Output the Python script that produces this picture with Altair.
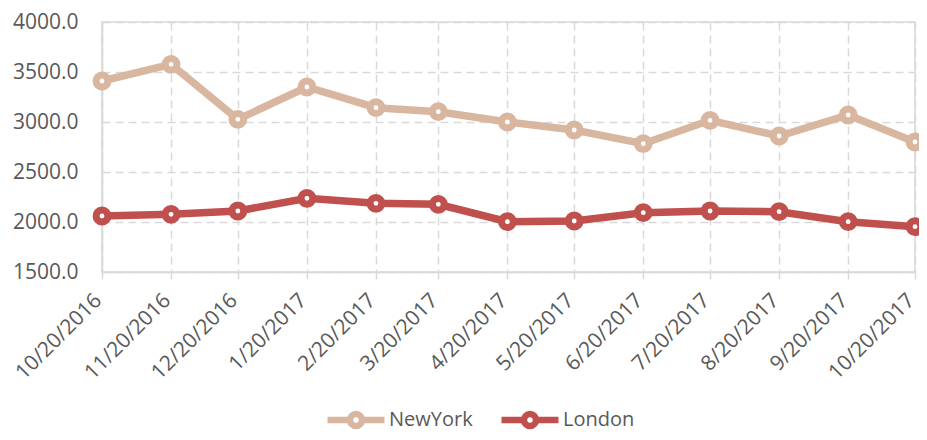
import altair as alt
import pandas as pd

dates = ["2016-10-20", "2016-11-20", "2016-12-20", "2017-01-20", "2017-02-20",
         "2017-03-20", "2017-04-20", "2017-05-20", "2017-06-20", "2017-07-20",
         "2017-08-20", "2017-09-20", "2017-10-20"]
newyork = [3410, 3577, 3027, 3350, 3143, 3103, 3000, 2920, 2783, 3017, 2860, 3070, 2800]
london = [2060, 2077, 2110, 2237, 2187, 2177, 2003, 2010, 2093, 2110, 2103, 2003, 1953]
series = ["NewYork", "London"]
colors = ["#D9B6A0", "#C0504D"]
y_ticks = [1500, 2000, 2500, 3000, 3500, 4000]

rows = []
for d, v in zip(dates, newyork):
    rows.append({"date": d, "city": "NewYork", "value": v})
for d, v in zip(dates, london):
    rows.append({"date": d, "city": "London", "value": v})
df = pd.DataFrame(rows)

def dt(s):
    y, m, d = map(int, s.split("-"))
    return alt.DateTime(year=y, month=m, date=d, utc=True)

font = "Open Sans"
text_color = "#595959"
grid_color = "#d9d9d9"

x = alt.X(
    "date:T",
    timeUnit="utcyearmonthdate",
    scale=alt.Scale(domain=[dt(dates[0]), dt(dates[-1])], nice=False),
    axis=alt.Axis(
        values=[dt(d) for d in dates],
        format="%-m/%d/%Y",
        labelAngle=-45,
        labelAlign="right",
        labelBaseline="middle",
        labelPadding=18,
        labelOffset=-4,
        tickSize=7,
        tickColor=grid_color,
        tickWidth=1.5,
        grid=True,
        gridDash=[8, 5],
        gridColor=grid_color,
        gridWidth=1.5,
        domainColor=grid_color,
        domainWidth=1.5,
        title=None,
        labelOverlap=False,
        labelBound=False,
    ),
)
y = alt.Y(
    "value:Q",
    scale=alt.Scale(domain=[1500, 4000], nice=False, zero=False),
    axis=alt.Axis(
        values=y_ticks,
        format=".1f",
        ticks=False,
        labelPadding=24,
        grid=True,
        gridDash=[8, 5],
        gridColor=grid_color,
        gridWidth=1.5,
        domainColor=grid_color,
        domainWidth=1.5,
        title=None,
    ),
)
color_scale = alt.Scale(domain=series, range=colors)

symbol_path = ("M-1,0H-0.21 M0.21,0H1 "
               "M-0.21,0A0.21,0.21 0 1,0 0.21,0A0.21,0.21 0 1,0 -0.21,0Z")

line = alt.Chart(df).mark_line(strokeWidth=7.5).encode(
    x=x,
    y=y,
    color=alt.Color(
        "city:N",
        scale=color_scale,
        sort=series,
        legend=alt.Legend(
            title=None,
            orient="none",
            direction="horizontal",
            legendX=222,
            legendY=366,
            symbolType=symbol_path,
            symbolSize=3249,
            symbolStrokeWidth=6.5,
            symbolFillColor="white",
            labelFontSize=20,
            labelFont=font,
            labelColor=text_color,
            labelOffset=1,
            columnPadding=15,
        ),
    ),
)

points = alt.Chart(df).mark_point(
    filled=False, fill="white", fillOpacity=1, opacity=1, size=140, strokeWidth=7
).encode(
    x=x,
    y=y,
    color=alt.Color("city:N", scale=color_scale, sort=series, legend=None),
)

chart = (line + points).properties(
    width=813,
    height=250,
    autosize=alt.AutoSizeParams(type="none"),
    padding={"left": 94, "top": 14, "right": 4, "bottom": 160},
).configure_axis(
    labelFont=font,
    labelFontSize=21,
    labelColor=text_color,
).configure_view(
    stroke=grid_color,
    strokeWidth=1.5,
)

chart.save("out.html", embed_options={"renderer": "svg", "actions": False})
